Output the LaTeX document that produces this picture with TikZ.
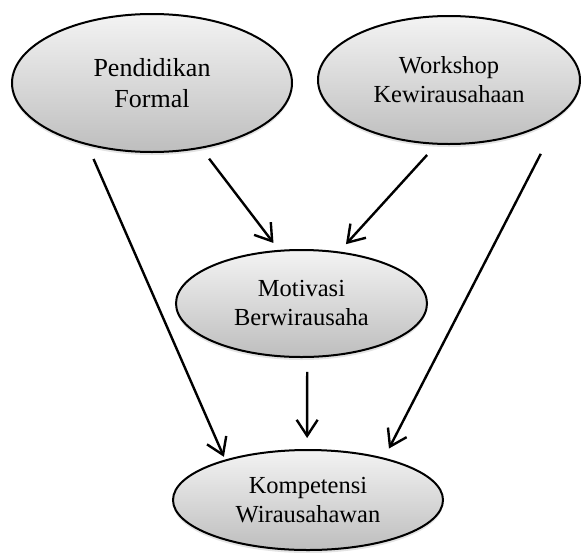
\documentclass[tikz,border=0pt]{standalone}
\usepackage{fontspec}
\setmainfont{Liberation Serif}
\usetikzlibrary{arrows.meta,shapes.geometric,shadows}
\definecolor{ovtop}{HTML}{F3F3F3}
\definecolor{ovbot}{HTML}{BEBEBE}
\tikzset{
  oval/.style={ellipse, draw, line width=2pt, top color=ovtop, bottom color=ovbot,
    align=center, inner sep=0pt, font=\fontsize{24.5}{29}\selectfont,
    drop shadow={shadow xshift=0pt, shadow yshift=-3pt, opacity=0.22}},
  link/.style={-{Straight Barb[length=16pt,width=21pt]}, line width=2.4pt},
}
\begin{document}
\begin{tikzpicture}[x=1pt,y=-1pt]
  \useasboundingbox (0,0) rectangle (581,552);
  % ovals
  \node[oval, minimum width=280pt, minimum height=138pt, font=\fontsize{26}{31}\selectfont] (pf) at (152,83) {Pendidikan\\Formal};
  \node[oval, minimum width=262pt, minimum height=128pt] (wk) at (449,80) {Workshop\\Kewirausahaan};
  \node[oval, minimum width=251pt, minimum height=107pt] (mb) at (301.5,303.5) {Motivasi\\Berwirausaha};
  \node[oval, minimum width=270pt, minimum height=100pt] (kw) at (308,500) {Kompetensi\\Wirausahawan};
  % arrows
  \draw[link, shorten <=15pt, shorten >=3pt] (pf.-136.8) -- (kw.154.9);
  \draw[link, shorten <=12.7pt, shorten >=8.7pt] (pf.-53.9) -- (mb.113.8);
  \draw[link, shorten <=13.9pt, shorten >=9.9pt] (wk.-101.3) -- (mb.54.2);
  \draw[link, shorten <=44.5pt, shorten >=10.4pt] (wk.-17.35) -- (kw.29.4);
  \draw[link, shorten <=14pt, shorten >=11pt] (mb.-84.1) -- (kw.91.1);
\end{tikzpicture}
\end{document}
